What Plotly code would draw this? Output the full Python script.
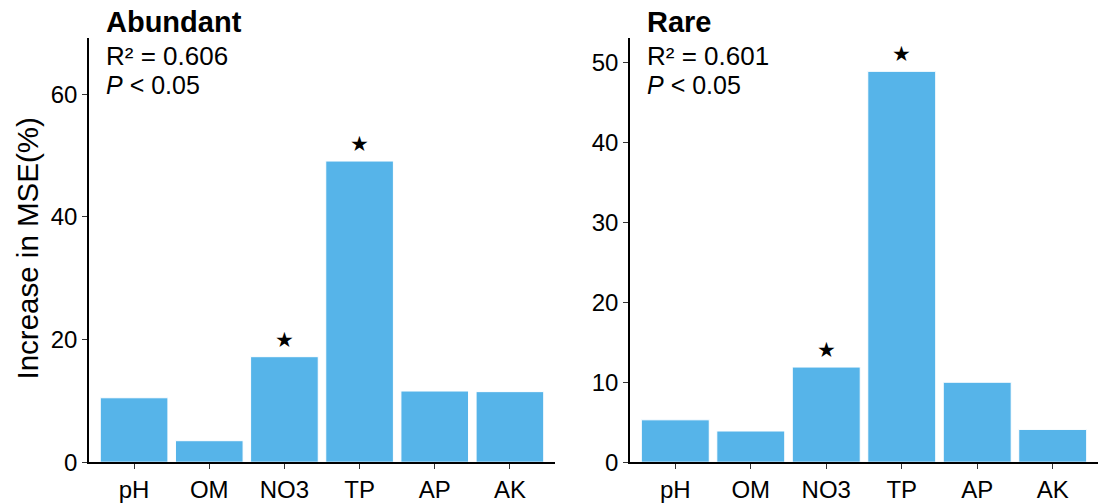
import plotly.graph_objects as go

# Predictors and their %IncMSE for each community
variables = ["pH", "OM", "NO3", "TP", "AP", "AK"]
abundant_mse = [10.5, 3.5, 17.2, 49.1, 11.6, 11.5]
rare_mse = [5.3, 3.9, 11.9, 48.9, 10.0, 4.1]
abundant_sig = ["NO3", "TP"]
rare_sig = ["NO3", "TP"]

panel_titles = ["Abundant", "Rare"]
r2_labels = ["R² = 0.606", "R² = 0.601"]
p_labels = ["<i>P</i> < 0.05", "<i>P</i> < 0.05"]

bar_color = "#56B4E9"
font_family = "Arial, Liberation Sans, Helvetica, sans-serif"
W, H = 1104, 504
HV = 494  # usable drawing height in pixels


def py(px):
    """Paper y-coordinate for a pixel distance from the top."""
    return 1 - px / HV


fig = go.Figure()

panels = [
    (abundant_mse, abundant_sig, "x", "y"),
    (rare_mse, rare_sig, "x2", "y2"),
]
for vals, sig, xa, ya in panels:
    fig.add_trace(go.Bar(
        x=variables, y=vals, xaxis=xa, yaxis=ya,
        marker=dict(color=bar_color, line=dict(color="white", width=1)),
        width=0.9, showlegend=False,
    ))
    for v, val in zip(variables, vals):
        if v in sig:
            fig.add_annotation(
                x=v, y=val, xref=xa, yref=ya, text="★",
                showarrow=False, yshift=17,
                font=dict(size=21, color="black", family="DejaVu Sans"),
            )

xdom = [[89 / W, 555 / W], [630 / W, 1098 / W]]
ydom = [py(465), py(38)]
yranges = [[0, 69.2], [0, 53.1]]
ytick_sets = [[0, 20, 40, 60], [0, 10, 20, 30, 40, 50]]

axis_common = dict(
    showline=True, linecolor="black", linewidth=1.5,
    ticks="outside", ticklen=5, tickwidth=1.2, tickcolor="#333333",
    showgrid=False, zeroline=False,
    tickfont=dict(size=24, color="black", family=font_family),
)

for i in range(2):
    sx = "" if i == 0 else "2"
    fig.update_layout(**{
        f"xaxis{sx}": dict(
            domain=xdom[i], anchor=f"y{sx}", range=[-0.6, 5.6],
            **axis_common,
        ),
        f"yaxis{sx}": dict(
            domain=ydom, anchor=f"x{sx}", range=yranges[i],
            tickvals=ytick_sets[i], **axis_common,
        ),
    })
    x0 = xdom[i][0] + 15 / W
    fig.add_annotation(
        x=x0, y=py(22), xref="paper", yref="paper",
        text=f"<b>{panel_titles[i]}</b>", showarrow=False,
        xanchor="left", yanchor="middle",
        font=dict(size=29, color="black", family=font_family),
    )
    fig.add_annotation(
        x=x0, y=py(56), xref="paper", yref="paper",
        text=r2_labels[i], showarrow=False,
        xanchor="left", yanchor="middle",
        font=dict(size=26, color="black", family=font_family),
    )
    fig.add_annotation(
        x=x0, y=py(86), xref="paper", yref="paper",
        text=p_labels[i], showarrow=False,
        xanchor="left", yanchor="middle",
        font=dict(size=25, color="black", family=font_family),
    )

fig.add_annotation(
    x=27 / W, y=py(250), xref="paper", yref="paper",
    text="Increase in MSE(%)", showarrow=False, textangle=-90,
    xanchor="center", yanchor="middle",
    font=dict(size=29.5, color="black", family=font_family),
)

fig.update_layout(
    width=W, height=H,
    margin=dict(l=0, r=0, t=0, b=0),
    paper_bgcolor="white", plot_bgcolor="white",
    bargap=0.1,
)

fig.write_html("out.html")
